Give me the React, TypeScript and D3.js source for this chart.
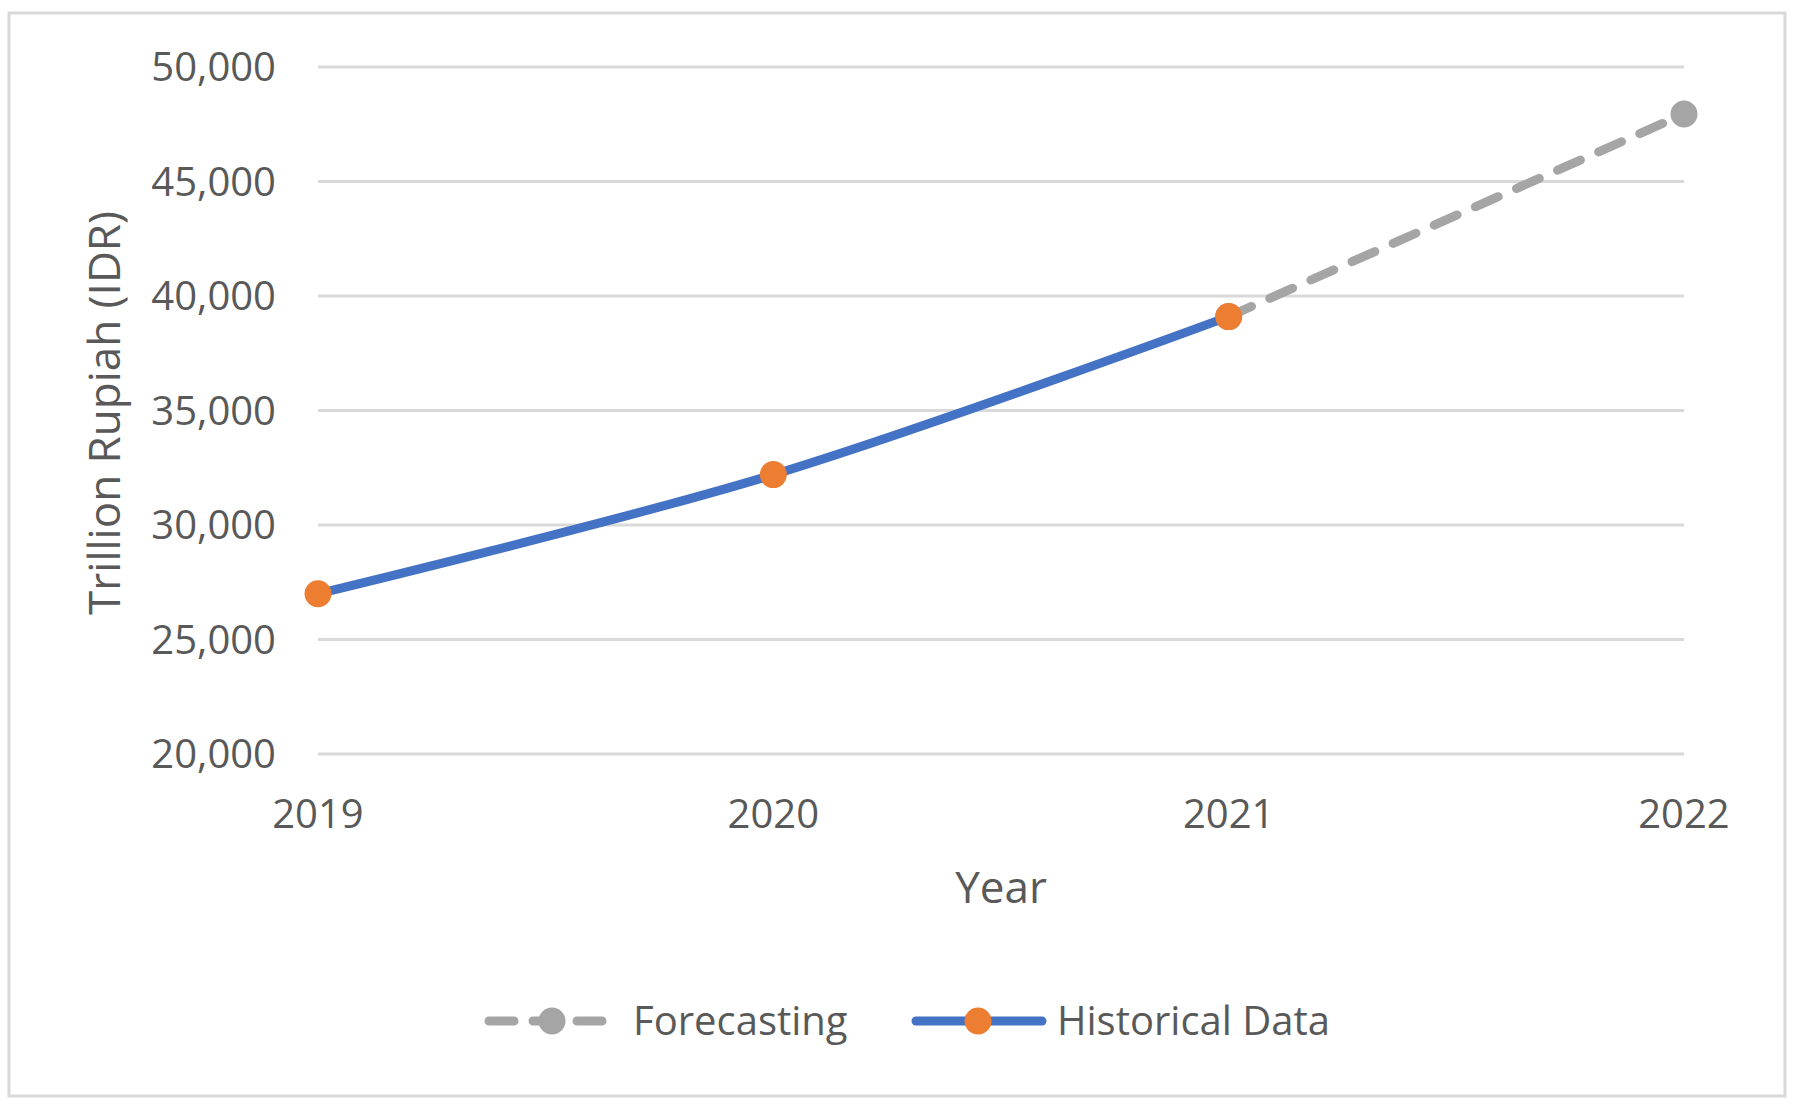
import { useEffect, useRef } from 'react';
import * as d3 from 'd3';

const years = ['2019', '2020', '2021', '2022'];
const historical = [27000, 32200, 39100];
const forecast = [
  { year: '2021', value: 39100 },
  { year: '2022', value: 47950 },
];
const yTicks = [20000, 25000, 30000, 35000, 40000, 45000, 50000];
const seriesNames = ['Forecasting', 'Historical Data'];

const W = 1800;
const H = 1109;
const FONT = '"Open Sans", sans-serif';
const TEXT = '#595959';
const BLUE = '#4472C4';
const ORANGE = '#ED7D31';
const GRAY = '#A5A5A5';
const GRID = '#D9D9D9';

export default function App() {
  const svgRef = useRef<SVGSVGElement>(null);

  useEffect(() => {
    if (!svgRef.current) return;
    const svg = d3.select(svgRef.current);
    svg.selectAll('*').remove();

    // chart frame
    svg.append('rect')
      .attr('x', 9).attr('y', 13)
      .attr('width', 1776).attr('height', 1083)
      .attr('fill', '#fff')
      .attr('stroke', GRID)
      .attr('stroke-width', 3);

    const x = d3.scalePoint<string>().domain(years).range([318, 1684]).padding(0);
    const y = d3.scaleLinear().domain([20000, 50000]).range([754, 67]);

    // gridlines
    svg.append('g')
      .selectAll('line')
      .data(yTicks)
      .enter().append('line')
      .attr('x1', x(years[0]) || 0)
      .attr('x2', x(years[years.length - 1]) || 0)
      .attr('y1', d => y(d))
      .attr('y2', d => y(d))
      .attr('stroke', GRID)
      .attr('stroke-width', 3);

    // y tick labels
    svg.append('g')
      .selectAll('text')
      .data(yTicks)
      .enter().append('text')
      .attr('x', 276)
      .attr('y', d => y(d))
      .attr('dy', '0.35em')
      .attr('text-anchor', 'end')
      .style('font-family', FONT)
      .style('font-size', '40px')
      .style('fill', TEXT)
      .text(d => d3.format(',')(d));

    // x tick labels
    svg.append('g')
      .selectAll('text')
      .data(years)
      .enter().append('text')
      .attr('x', d => x(d) || 0)
      .attr('y', 828)
      .attr('text-anchor', 'middle')
      .style('font-family', FONT)
      .style('font-size', '40px')
      .style('fill', TEXT)
      .text(d => d);

    // axis titles
    svg.append('text')
      .attr('x', 1001).attr('y', 903)
      .attr('text-anchor', 'middle')
      .style('font-family', FONT)
      .style('font-size', '44px')
      .style('fill', TEXT)
      .text('Year');

    svg.append('text')
      .attr('transform', 'translate(120,413) rotate(-90)')
      .attr('text-anchor', 'middle')
      .style('font-family', FONT)
      .style('font-size', '44px')
      .style('fill', TEXT)
      .text('Trillion Rupiah (IDR)');

    // forecast series (dashed)
    const fLine = d3.line<{ year: string; value: number }>()
      .x(d => x(d.year) || 0)
      .y(d => y(d.value));

    svg.append('path')
      .datum(forecast)
      .attr('fill', 'none')
      .attr('stroke', GRAY)
      .attr('stroke-width', 9)
      .attr('stroke-linecap', 'round')
      .attr('stroke-dasharray', '25 20')
      .attr('d', fLine);

    svg.append('g')
      .selectAll('circle')
      .data(forecast)
      .enter().append('circle')
      .attr('cx', d => x(d.year) || 0)
      .attr('cy', d => y(d.value))
      .attr('r', 13.5)
      .attr('fill', GRAY);

    // historical series (smoothed)
    const hData = historical.map((v, i) => ({ year: years[i], value: v }));
    const hLine = d3.line<{ year: string; value: number }>()
      .x(d => x(d.year) || 0)
      .y(d => y(d.value))
      .curve(d3.curveCatmullRom.alpha(0.5));

    svg.append('path')
      .datum(hData)
      .attr('fill', 'none')
      .attr('stroke', BLUE)
      .attr('stroke-width', 9)
      .attr('stroke-linecap', 'round')
      .attr('d', hLine);

    svg.append('g')
      .selectAll('circle')
      .data(hData)
      .enter().append('circle')
      .attr('cx', d => x(d.year) || 0)
      .attr('cy', d => y(d.value))
      .attr('r', 13.5)
      .attr('fill', ORANGE);

    // legend
    const legendY = 1021;
    const lg = svg.append('g');
    const items = [
      { name: seriesNames[0], x0: 489, x1: 605, mx: 552, tx: 633, line: GRAY, marker: GRAY, dash: '25 19' },
      { name: seriesNames[1], x0: 916, x1: 1042, mx: 978, tx: 1057, line: BLUE, marker: ORANGE, dash: null },
    ];
    items.forEach(it => {
      lg.append('line')
        .attr('x1', it.x0).attr('x2', it.x1)
        .attr('y1', legendY).attr('y2', legendY)
        .attr('stroke', it.line)
        .attr('stroke-width', 9)
        .attr('stroke-linecap', 'round')
        .attr('stroke-dasharray', it.dash);
      lg.append('circle')
        .attr('cx', it.mx).attr('cy', legendY)
        .attr('r', 13.5)
        .attr('fill', it.marker);
      lg.append('text')
        .attr('x', it.tx).attr('y', legendY)
        .attr('dy', '0.35em')
        .style('font-family', FONT)
        .style('font-size', '40px')
        .style('fill', TEXT)
        .text(it.name);
    });
  }, []);

  return (
    <svg
      ref={svgRef}
      width={W}
      height={H}
      style={{ position: 'absolute', left: 0, top: 0, background: '#fff' }}
    />
  );
}
